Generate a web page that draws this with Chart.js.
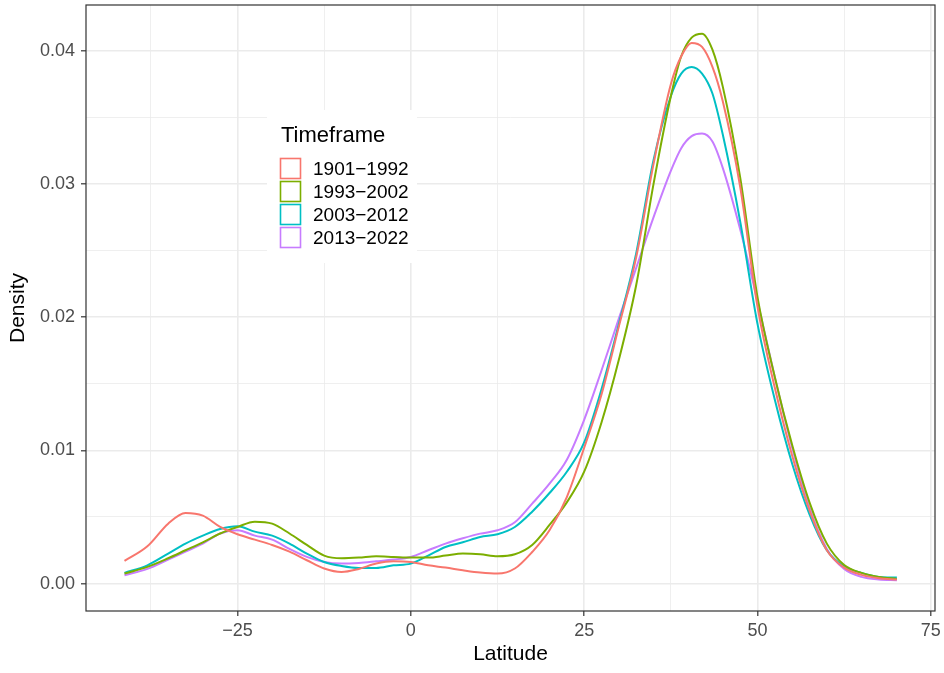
<!DOCTYPE html>
<html>
<head>
<meta charset="utf-8">
<title>Latitude density by timeframe</title>
<script src="https://cdn.jsdelivr.net/npm/chart.js@4.4.1/dist/chart.umd.min.js"></script>
<style>
  html, body { margin: 0; padding: 0; background: #fff; }
  #wrap { width: 944px; height: 673px; }
</style>
</head>
<body>
<div id="wrap"><canvas id="densityChart" width="944" height="673"></canvas></div>
<script>
// latitude grid the densities were read at
const latitude = [-41.3, -38, -35, -32.5, -30, -27.5, -25, -22.5, -20, -17.5, -15, -12.5, -10, -7.5,
    -5, -2.5, 0, 2.5, 5, 7.5, 10, 12.5, 15, 17.5, 20, 22.5, 25, 27.5, 30, 32.5, 35, 37.5,
    39, 40.5, 42, 43.5, 45, 47.5, 50, 52.5, 55, 57.5, 60, 62.5, 65, 67.5, 70.1];

const timeframes = ['1901\u22121992', '1993\u22122002', '2003\u22122012', '2013\u22122022'];

const density1901 = [0.0017, 0.0028, 0.0045, 0.0053, 0.0051, 0.00425, 0.0037, 0.0033, 0.0029, 0.0024,
    0.00175, 0.00113, 0.00087, 0.0011, 0.0015, 0.00167, 0.00162, 0.00137, 0.0012, 0.001, 0.00083,
    0.00075, 0.00113, 0.00237, 0.004, 0.0065, 0.0102, 0.0142, 0.0193, 0.0245, 0.0315, 0.0375,
    0.0396, 0.0406, 0.0403, 0.0388, 0.0362, 0.0298, 0.0208, 0.0147, 0.0096, 0.0055, 0.0025,
    0.0012, 0.00065, 0.0004, 0.0003];
const density1993 = [0.00075, 0.00125, 0.0019, 0.0025, 0.0031, 0.00376, 0.00425, 0.00465, 0.0045, 0.00376,
    0.0029, 0.0021, 0.0019, 0.00195, 0.00205, 0.002, 0.00195, 0.00195, 0.0021, 0.00225, 0.0022,
    0.00205, 0.0022, 0.0029, 0.0044, 0.0061, 0.0084, 0.0121, 0.0168, 0.0224, 0.03, 0.0366,
    0.0396, 0.041, 0.0413, 0.0401, 0.0373, 0.0305, 0.0215, 0.0155, 0.0104, 0.0061, 0.003,
    0.0014, 0.0008, 0.0005, 0.00035];
const density2003 = [0.0008, 0.00137, 0.00225, 0.003, 0.0036, 0.0041, 0.0043, 0.0039, 0.0036, 0.003,
    0.00225, 0.00162, 0.00132, 0.00117, 0.00117, 0.00137, 0.0015, 0.0021, 0.00275, 0.0031, 0.0035,
    0.0037, 0.00425, 0.0054, 0.0068, 0.0084, 0.0106, 0.0146, 0.0195, 0.0248, 0.0318, 0.0366,
    0.0383, 0.0388, 0.0383, 0.0368, 0.0337, 0.0272, 0.0195, 0.0138, 0.0090, 0.0052, 0.0025,
    0.0013, 0.0008, 0.0005, 0.00045];
const density2013 = [0.00062, 0.0011, 0.0018, 0.0024, 0.003, 0.00376, 0.004, 0.0036, 0.0033, 0.0026,
    0.002, 0.00162, 0.0015, 0.00155, 0.00167, 0.0018, 0.002, 0.0025, 0.003, 0.0034, 0.00375,
    0.004, 0.0046, 0.006, 0.0075, 0.0093, 0.0123, 0.016, 0.0199, 0.0237, 0.0275, 0.031,
    0.0327, 0.0336, 0.0338, 0.0332, 0.0312, 0.0266, 0.0212, 0.0155, 0.0102, 0.0057, 0.0026,
    0.0011, 0.0005, 0.0003, 0.00025];

const xMajorTicks = [-25, 0, 25, 50, 75];
const yMajorTicks = [0, 0.01, 0.02, 0.03, 0.04];

const lineColors = ['#F8766D', '#7CAE00', '#00BFC4', '#C77CFF'];
const FONT = "'Liberation Sans', Arial, sans-serif";

// ggplot-style grid: major ticks plus a minor line halfway between each pair
function withMinor(major, lo, hi) {
    const step = major[1] - major[0];
    const out = [];
    for (let v = major[0] - step; v <= major[major.length - 1] + step; v += step / 2) {
        if (v < lo || v > hi) continue;
        const isMajor = major.some(m => Math.abs(m - v) < 1e-9);
        out.push({ value: v, major: isMajor });
    }
    return out;
}

const xRange = [-46.85, 75.6];
const yRange = [-0.00206, 0.04345];

const series = [density1901, density1993, density2003, density2013];
const datasets = series.map((values, i) => ({
    label: timeframes[i],
    data: latitude.map((x, j) => ({ x: x, y: values[j] })),
    borderColor: lineColors[i],
    borderWidth: 2,
    pointRadius: 0,
    fill: false,
    cubicInterpolationMode: 'monotone'
}));

const gridOpts = {
    color: '#EBEBEB',
    lineWidth: ctx => (ctx.tick && ctx.tick.major ? 1.6 : 0.8),
    drawTicks: true,
    tickLength: 5,
    tickWidth: 1.2,
    tickColor: ctx => (ctx.tick && ctx.tick.major ? '#333333' : 'rgba(0,0,0,0)')
};

// the blank minor labels still reserve room at the ends, so drop that
function fixSize(prop, size) {
    return scale => {
        scale[prop] = size;
        scale.paddingTop = 0;
        scale.paddingBottom = 0;
        scale.paddingLeft = 0;
        scale.paddingRight = 0;
    };
}

// panel border and the inset legend
const panelDecor = {
    id: 'panelDecor',
    afterDatasetsDraw(chart) {
        const { ctx, chartArea: a } = chart;
        ctx.save();
        ctx.strokeStyle = '#333333';
        ctx.lineWidth = 1.2;
        ctx.strokeRect(a.left, a.top, a.right - a.left, a.bottom - a.top);
        ctx.restore();
    },
    afterDraw(chart) {
        const ctx = chart.ctx;
        ctx.save();
        ctx.fillStyle = '#ffffff';
        ctx.fillRect(267, 110, 150, 153);
        ctx.fillStyle = '#000000';
        ctx.font = '22px ' + FONT;
        ctx.textBaseline = 'alphabetic';
        ctx.fillText('Timeframe', 281, 142);
        ctx.font = '19px ' + FONT;
        ctx.textBaseline = 'middle';
        timeframes.forEach((name, i) => {
            const cy = 168.5 + i * 23;
            ctx.strokeStyle = lineColors[i];
            ctx.lineWidth = 1.6;
            ctx.strokeRect(280.5, cy - 10, 20, 20);
            ctx.fillStyle = '#000000';
            ctx.fillText(name, 313, cy + 1);
        });
        ctx.restore();
    }
};

const chart = new Chart(document.getElementById('densityChart').getContext('2d'), {
    type: 'line',
    data: { datasets: datasets },
    options: {
        responsive: false,
        animation: false,
        layout: { padding: { left: 0, top: 5, right: 9, bottom: 0 } },
        plugins: {
            legend: { display: false },
            tooltip: { enabled: false }
        },
        scales: {
            x: {
                type: 'linear',
                min: xRange[0],
                max: xRange[1],
                afterBuildTicks: scale => { scale.ticks = withMinor(xMajorTicks, xRange[0], xRange[1]); },
                afterFit: fixSize('height', 62),
                grid: gridOpts,
                border: { display: false },
                ticks: {
                    autoSkip: false,
                    maxRotation: 0,
                    padding: 4,
                    color: '#4D4D4D',
                    font: { family: FONT, size: 18 },
                    callback: (v, i, ticks) => (ticks[i].major ? String(v).replace('-', '\u2212') : '')
                },
                title: {
                    display: true,
                    text: 'Latitude',
                    color: '#000000',
                    font: { family: FONT, size: 21 },
                    padding: { top: 0, bottom: 6 }
                }
            },
            y: {
                type: 'linear',
                min: yRange[0],
                max: yRange[1],
                afterBuildTicks: scale => { scale.ticks = withMinor(yMajorTicks, yRange[0], yRange[1]); },
                afterFit: fixSize('width', 86),
                grid: gridOpts,
                border: { display: false },
                ticks: {
                    autoSkip: false,
                    padding: 6,
                    color: '#4D4D4D',
                    font: { family: FONT, size: 18 },
                    callback: (v, i, ticks) => (ticks[i].major ? v.toFixed(2) : '')
                },
                title: {
                    display: true,
                    text: 'Density',
                    color: '#000000',
                    font: { family: FONT, size: 21 },
                    padding: { top: 6, bottom: 0 }
                }
            }
        }
    },
    plugins: [panelDecor]
});
</script>
</body>
</html>
